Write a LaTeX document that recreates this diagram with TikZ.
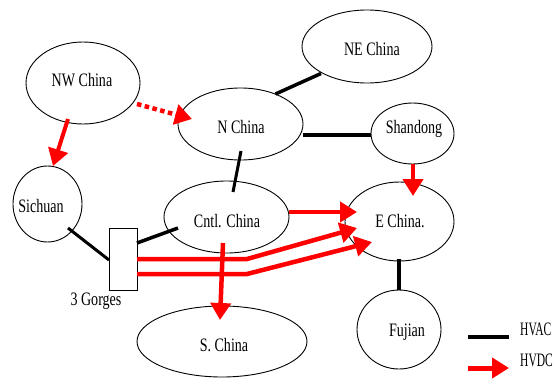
\documentclass[tikz,border=0pt]{standalone}
\usepackage{fontspec}
\usepackage{graphicx}
\setmainfont{Liberation Serif}[FakeStretch=0.74]
\usetikzlibrary{arrows.meta,calc,shapes.geometric}
\newcommand{\keytext}[1]{\scalebox{0.82}[1]{#1}}
\begin{document}
\begin{tikzpicture}[x=1pt,y=-1pt,
  region/.style={draw, ellipse, line width=0.9pt, inner sep=0pt, outer sep=0pt},
  lbl/.style={font=\fontsize{19}{19}\selectfont, inner sep=0pt, anchor=base},
  keylbl/.style={font=\fontsize{19}{19}\selectfont, inner sep=0pt, anchor=base west},
  ac/.style={line width=3.5pt, black},
  dc/.style={line width=4.5pt, red, -{Triangle[length=17pt,width=20pt]}},
]
\useasboundingbox (0,0) rectangle (557,378);

% grid regions
\node[region, minimum width=114pt, minimum height=82pt] (nw) at (83,83) {};
\node[region, minimum width=125pt, minimum height=72pt] (nc) at (240.5,124) {};
\node[region, minimum width=130pt, minimum height=73pt] (ne) at (367,46.5) {};
\node[region, minimum width=83pt, minimum height=61pt] (sd) at (412.5,133.5) {};
\node[region, minimum width=69pt, minimum height=76pt] (sc) at (47.5,204) {};
\node[region, minimum width=125pt, minimum height=72pt] (cc) at (226.5,217) {};
\node[region, minimum width=109pt, minimum height=79pt] (ec) at (399.5,221.5) {};
\node[region, minimum width=84pt, minimum height=79pt] (fj) at (399,329.5) {};
\node[region, minimum width=170pt, minimum height=71pt] (sch) at (222,341.5) {};
\node[draw, line width=0.9pt, minimum width=28pt, minimum height=62pt,
      inner sep=0pt, outer sep=0pt] (tg) at (123,259) {};

% region names
\node[lbl] (nwt) at (82,86) {NW China};
\node[lbl] (nct) at (241,133) {N China};
\node[lbl] (net) at (372,55) {NE China};
\node[lbl] (sdt) at (414,133) {Shandong};
\node[lbl] (sct) at (41,212) {Sichuan};
\node[lbl] (cct) at (227,227) {Cntl. China};
\node[lbl] (ect) at (400,227) {E China.};
\node[lbl] (fjt) at (407,336) {Fujian};
\node[lbl] (scht) at (224,351) {S. China};
\node[lbl] (tgt) at (96,305) {3 Gorges};

% HVAC links
\draw[ac] ($(nc)+(35,-30)$) -- ($(ne)+(-46,27)$);
\draw[ac] ($(nc)+(62.5,11)$) -- ($(sd)+(-41.5,1.5)$);
\draw[ac, line width=3pt] ($(nc)+(0.5,27)$) -- ($(cc)+(6.5,-25)$);
\draw[ac, line width=3pt] ($(sc)+(20.5,24)$) -- ($(tg)+(-14,1)$);
\draw[ac] ($(tg)+(14,-16)$) -- ($(cc)+(-48.5,11)$);
\draw[ac] ($(ec)+(-0.5,37.5)$) -- ($(fj)+(0,-39.5)$);

% HVDC links
\draw[dc, dash pattern=on 4.5pt off 3.5pt] ($(nw)+(54,21)$) -- ($(nc)+(-48.5,-5)$);
\draw[dc, line width=4pt] ($(nw)+(-15,36)$) -- ($(sc)+(5.5,-38)$);
\draw[dc] ($(sd)+(0.5,30.5)$) -- ($(ec)+(13.5,-25.5)$);
\draw[dc] ($(cc)+(62.5,-5)$) -- ($(ec)+(-42.5,-9.5)$);
\draw[dc] ($(tg)+(14,0)$) -- (247,259) -- ($(ec)+(-42.5,6.5)$);
\draw[dc] ($(tg)+(14,15)$) -- (247,274) -- ($(ec)+(-27.5,20.5)$);
\draw[dc] ($(cc)+(-3.5,26)$) -- ($(sch)+(-2,-21.5)$);

% legend
\coordinate (ka) at (468,337);
\coordinate (kb) at (509,337);
\coordinate (kc) at (468,368);
\coordinate (kd) at (509,368);
\draw[ac, line width=4.5pt] (ka) -- (kb);
\draw[dc, line width=5pt] (kc) -- (kd);
\node[keylbl] (kat) at (520,335) {\keytext{HVAC}};
\node[keylbl] (kdt) at (520,366) {\keytext{HVDC}};
\end{tikzpicture}
\end{document}
